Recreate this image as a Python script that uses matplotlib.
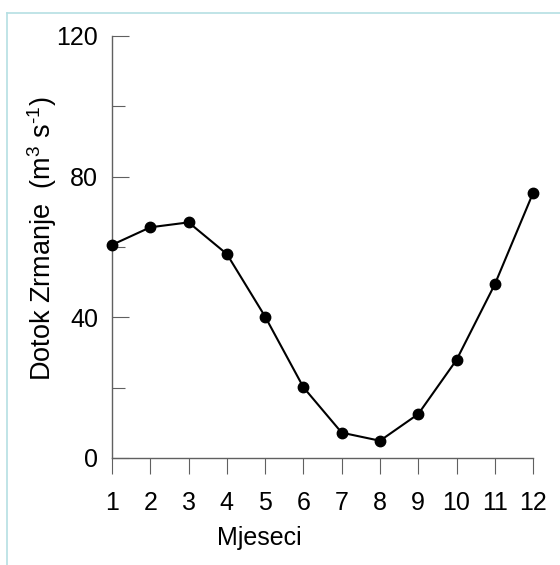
import matplotlib
matplotlib.use('Agg')
import matplotlib.pyplot as plt
from matplotlib.lines import Line2D

plt.rcParams['font.family'] = ['Liberation Sans', 'DejaVu Sans']
plt.rcParams['mathtext.fontset'] = 'custom'
plt.rcParams['mathtext.rm'] = 'Liberation Sans'
plt.rcParams['mathtext.it'] = 'Liberation Sans'

months = [1, 2, 3, 4, 5, 6, 7, 8, 9, 10, 11, 12]
inflow = [60.6, 65.6, 67.0, 58.0, 40.2, 20.1, 7.2, 4.9, 12.5, 27.9, 49.4, 75.4]
y_major = [0, 40, 80, 120]
y_minor = [20, 60, 100]

fs = 18

fig = plt.figure(figsize=(5.6, 5.65), dpi=100)
ax = fig.add_axes([0.2, 0.1894, 0.752, 0.7469])

ax.plot(months, inflow, color='black', linewidth=1.5, marker='o',
        markersize=7.5, clip_on=False, zorder=3)

ax.set_xlim(1, 12)
ax.set_ylim(0, 120)
ax.set_xticks(months)
ax.set_yticks(y_major)
ax.set_yticks(y_minor, minor=True)

axis_color = '#606060'
for side in ['top', 'right']:
    ax.spines[side].set_visible(False)
for side in ['left', 'bottom']:
    ax.spines[side].set_color(axis_color)
    ax.spines[side].set_linewidth(1.0)

ax.tick_params(axis='y', which='major', direction='in', length=12,
               width=0.8, color=axis_color, pad=10, labelsize=fs)
ax.tick_params(axis='y', which='minor', direction='in', length=9.4,
               width=0.8, color=axis_color)
ax.tick_params(axis='x', which='major', direction='out', length=11.5,
               width=0.8, color=axis_color, pad=12, labelsize=fs)

ax.set_xlabel('Mjeseci', fontsize=fs)
ax.xaxis.set_label_coords(0.35, -0.19)
ax.xaxis.label.set_verticalalignment('center')
ax.set_ylabel(r'Dotok Zrmanje  (m$^{\mathrm{3}}$ s$^{\text{-1}}$)', fontsize=19.5)
ax.yaxis.set_label_coords(-0.166, 0.52)
ax.yaxis.label.set_verticalalignment('center')

# light frame on the top and left of the picture
border = '#b5dfe3'
fig.add_artist(Line2D([7 / 560, 1], [1 - 13 / 565, 1 - 13 / 565],
                      transform=fig.transFigure, color=border, linewidth=1.2))
fig.add_artist(Line2D([7 / 560, 7 / 560], [0, 1 - 13 / 565],
                      transform=fig.transFigure, color=border, linewidth=1.2))

fig.savefig('out.png', dpi=100)
